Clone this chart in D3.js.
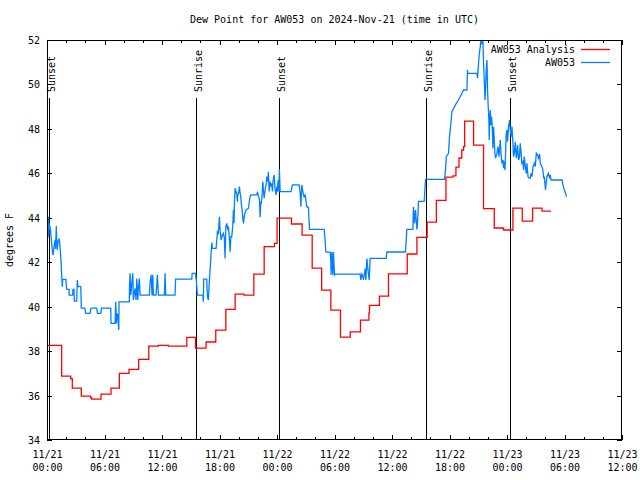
<!DOCTYPE html>
<html>
<head>
<meta charset="utf-8">
<script src="https://cdn.jsdelivr.net/npm/d3@7"></script>
<style>
  html, body { margin: 0; padding: 0; background: #fff; }
  svg { display: block; }
  text { font-family: "DejaVu Sans Mono", monospace; font-size: 10px; fill: #000; }
</style>
</head>
<body>
<svg id="chart" width="640" height="480"></svg>
<script>
// ---------------- DATA ----------------
const titleText = "Dew Point for AW053 on 2024-Nov-21 (time in UTC)";
const yAxisLabel = "degrees F";
const seriesNames = ["AW053 Analysis", "AW053"];
const seriesColors = ["#ff0000", "#0080ff"];
const startUTC = [2024, 10, 21];          // 2024-Nov-21 00:00 UTC
const xDomainHours = [0, 60];             // through 2024-Nov-23 12:00 UTC
const yDomain = [34, 52];
const yTicks = [34, 36, 38, 40, 42, 44, 46, 48, 50, 52];
const majorTickEveryHours = 6;
const minorTickEveryHours = 2;

// sun events (hours after 11/21 00:00 UTC)
const eventHours  = [0.24, 15.5, 24.25, 39.5, 48.27];
const eventLabels = ["Sunset", "Sunrise", "Sunset", "Sunrise", "Sunset"];

// AW053 Analysis: [hour, degF], value holds until next entry
const analysisObs = [
 [0.00,38.26],[1.53,36.87],[2.47,36.76],[2.64,36.33],[3.58,35.97],[4.56,35.90],[4.67,35.84],
 [5.64,36.06],[6.68,36.33],[7.55,37.00],[8.56,37.18],[9.57,37.63],[10.62,38.22],[11.62,38.26],
 [12.66,38.22],[14.59,38.62],[15.50,38.13],[16.60,38.41],[17.61,38.94],[18.66,39.88],[19.63,40.56],
 [20.57,40.52],[21.58,41.46],[22.66,42.70],[23.73,42.85],[24.01,43.98],[25.51,43.72],[26.62,43.22],
 [27.67,41.73],[28.66,40.74],[29.62,39.84],[30.62,38.63],[31.64,38.87],[32.71,39.39],[33.59,39.71],
 [33.65,40.06],[34.69,40.47],[35.63,41.48],[37.59,42.37],[38.60,43.12],[39.67,43.80],[40.63,44.78],
 [41.63,45.83],[42.36,45.89],[42.67,46.28],[42.99,46.69],[43.28,47.05],[43.47,47.20],[43.58,48.35],
 [44.51,47.27],[45.55,44.41],[46.67,43.54],[47.64,43.45],[48.62,44.43],[49.59,43.85],[50.67,44.43],
 [51.65,44.30],[52.59,44.30]
];

// AW053 observations: [hour, degF]
const stationObs = [
 [0.00,44.02],[0.03,43.0],[0.07,44.0],[0.10,43.1],[0.15,44.05],[0.19,43.2],[0.21,43.75],[0.31,43.6],
 [0.37,43.45],[0.49,42.85],[0.55,42.55],[0.63,42.32],[0.73,42.7],[0.84,43.0],[0.90,42.6],[0.97,43.63],
 [1.01,43.0],[1.08,42.55],[1.15,42.92],[1.28,43.07],[1.36,42.7],[1.46,42.1],[1.53,41.43],[1.60,40.9],
 [1.64,41.23],[1.98,41.23],[2.02,40.93],[2.06,40.78],[2.30,40.78],[2.31,40.52],[2.68,40.52],[2.71,40.78],
 [2.82,40.78],[2.85,40.25],[3.10,40.25],[3.16,41.2],[3.24,40.9],[3.52,40.9],[3.55,40.52],[3.58,39.93],
 [3.94,39.93],[4.04,39.7],[4.49,39.7],[4.59,39.93],[5.19,39.93],[5.27,39.7],[5.61,39.7],[5.69,39.93],
 [6.65,39.93],[6.68,39.25],[7.10,39.25],[7.17,40.22],[7.24,39.25],[7.34,39.7],[7.41,39.48],[7.49,38.95],
 [7.52,40.22],[8.59,40.22],[8.61,40.97],[8.67,41.5],[8.74,40.52],[8.84,40.97],[8.95,41.5],[9.01,40.3],
 [9.19,40.82],[9.29,40.3],[9.37,41.27],[9.47,40.3],[9.53,40.82],[9.64,41.27],[9.71,40.52],[10.68,40.52],
 [10.75,41.05],[10.86,41.43],[10.96,40.52],[11.04,41.43],[11.10,40.52],[11.38,40.52],[11.45,40.97],
 [11.52,41.43],[11.62,40.52],[12.25,40.52],[12.32,41.5],[12.39,40.52],[13.36,40.52],[13.42,41.24],
 [15.11,41.24],[15.14,41.5],[15.50,41.5],[15.61,41.05],[15.69,40.52],[16.26,40.52],[16.32,40.22],
 [16.35,41.24],[16.67,41.24],[16.74,40.45],[16.84,40.3],[16.91,40.9],[17.02,41.65],[17.12,42.4],
 [17.20,42.88],[17.26,42.62],[17.64,42.62],[17.72,43.0],[17.78,43.37],[17.88,43.3],[17.99,44.05],
 [18.06,43.45],[18.17,43.0],[18.30,43.22],[18.41,43.3],[18.51,43.07],[18.58,42.17],[18.66,43.6],
 [18.76,43.75],[18.87,43.45],[18.93,43.6],[19.03,43.07],[19.11,42.47],[19.18,43.15],[19.28,43.15],
 [19.39,43.67],[19.45,44.35],[19.52,43.75],[19.56,44.72],[19.63,45.33],[19.73,45.18],[19.81,45.03],
 [19.87,44.72],[19.91,45.03],[20.01,45.18],[20.08,45.4],[20.15,45.1],[20.22,44.95],[20.29,44.57],
 [20.36,44.35],[20.43,43.98],[20.50,43.75],[20.60,44.12],[20.70,44.27],[20.78,44.35],[21.02,44.43],
 [21.19,44.95],[21.27,45.03],[21.89,45.03],[21.96,45.18],[22.03,45.03],[22.17,44.8],[22.24,44.02],
 [22.31,44.72],[22.37,44.65],[22.45,45.03],[22.52,45.63],[22.58,45.25],[22.66,44.88],[22.76,45.25],
 [22.86,45.48],[22.94,45.85],[23.04,45.63],[23.10,46.07],[23.18,45.18],[23.28,45.63],[23.36,45.4],
 [23.46,45.55],[23.52,45.18],[23.60,45.7],[23.70,45.93],[23.80,45.25],[23.91,45.03],[23.98,45.4],
 [24.04,45.18],[24.12,45.7],[24.19,45.18],[24.25,46.18],[24.33,45.18],[25.47,45.18],[25.61,45.48],
 [26.31,45.48],[26.41,45.18],[26.49,44.5],[26.59,45.48],[26.70,45.18],[26.76,45.03],[26.83,44.95],
 [26.94,45.03],[27.11,44.5],[27.28,44.47],[27.39,43.48],[28.92,43.48],[29.02,43.0],[29.10,42.45],
 [29.55,42.45],[29.62,42.03],[29.65,41.43],[29.72,42.46],[29.83,41.43],[29.89,42.46],[30.00,41.43],
 [30.07,41.46],[32.68,41.46],[32.75,41.2],[32.86,41.46],[32.96,41.35],[33.02,41.2],[33.20,41.71],
 [33.27,41.2],[33.38,42.17],[33.48,41.7],[33.62,41.2],[33.72,42.17],[35.39,42.17],[35.47,42.46],
 [37.41,42.46],[37.48,43.0],[37.55,43.48],[38.18,43.48],[38.24,44.5],[38.35,43.75],[38.45,44.35],
 [38.60,43.48],[38.66,43.78],[38.77,44.74],[39.36,44.74],[39.43,45.25],[39.50,45.73],[41.48,45.73],
 [41.59,46.18],[41.66,46.75],[41.90,46.9],[42.00,47.65],[42.18,48.4],[42.25,48.77],[42.42,48.92],
 [42.60,49.07],[42.94,49.3],[43.30,49.6],[43.46,49.75],[43.82,49.75],[43.88,50.65],[43.92,50.5],
 [44.86,50.5],[44.93,50.28],[45.03,50.95],[45.10,51.33],[45.21,51.7],[45.28,52.0],[45.38,51.85],
 [45.49,51.93],[45.55,50.95],[45.63,50.2],[45.70,49.3],[45.76,49.75],[45.83,50.65],[45.91,51.1],
 [45.97,49.75],[46.04,49.0],[46.11,48.4],[46.15,47.5],[46.18,48.4],[46.25,48.85],[46.32,48.17],
 [46.39,48.55],[46.46,48.1],[46.53,47.12],[46.60,48.1],[46.67,47.5],[46.74,46.9],[46.80,46.68],
 [46.95,46.9],[47.05,47.2],[47.16,46.75],[47.30,47.5],[47.37,46.9],[47.47,46.45],[47.58,46.6],
 [47.64,46.23],[47.71,46.53],[47.79,46.15],[47.85,46.9],[47.92,47.8],[48.00,47.95],[48.06,47.42],
 [48.16,48.1],[48.27,48.4],[48.34,47.95],[48.44,47.65],[48.52,48.1],[48.62,47.35],[48.68,46.75],
 [48.76,46.9],[48.86,47.42],[48.97,46.68],[49.04,46.9],[49.10,47.27],[49.21,46.6],[49.31,46.75],
 [49.38,47.35],[49.56,46.45],[49.67,46.53],[49.73,46.15],[49.80,46.75],[49.91,46.3],[50.01,46.0],
 [50.08,46.45],[50.19,45.85],[50.29,45.78],[50.43,45.78],[50.50,46.0],[50.61,45.85],[50.71,46.3],
 [50.85,46.45],[50.95,46.3],[51.06,46.9],[51.19,46.82],[51.30,46.68],[51.40,46.87],[51.47,46.45],
 [51.65,46.3],[51.75,46.15],[51.82,45.78],[51.89,45.85],[52.02,45.25],[52.10,45.63],[52.17,45.85],
 [52.31,46.0],[52.44,45.78],[52.52,45.93],[52.59,45.7],[53.74,45.7],[53.84,45.48],[53.98,45.25],
 [54.11,45.1],[54.22,44.95]
];

// ---------------- CHART ----------------
const W = 640, H = 480;
const M = { left: 47, right: 18, top: 40, bottom: 40 };
const x0 = M.left, x1 = W - M.right, yTop = M.top, yBot = H - M.bottom;

const t0 = Date.UTC(startUTC[0], startUTC[1], startUTC[2]);
const toDate = h => new Date(t0 + h * 3600000);

const x = d3.scaleUtc().domain(xDomainHours.map(toDate)).range([x0, x1]);
const y = d3.scaleLinear().domain(yDomain).range([yBot, yTop]);

const svg = d3.select("#chart");

// title
svg.append("text").attr("x", (x0 + x1) / 2).attr("y", 23)
  .attr("text-anchor", "middle").text(titleText);

// y label
svg.append("text").attr("transform", `translate(13,${(yTop + yBot) / 2}) rotate(-90)`)
  .attr("text-anchor", "middle").text(yAxisLabel);

// clip
svg.append("defs").append("clipPath").attr("id", "plotclip")
  .append("rect").attr("x", x0).attr("y", yTop).attr("width", x1 - x0).attr("height", yBot - yTop);

const majorTicks = d3.utcHour.every(majorTickEveryHours);
const minorTicks = d3.utcHour.every(minorTickEveryHours);

function styleAxis(g) {
  g.select(".domain").remove();
  g.selectAll(".tick line").attr("stroke", "#000").attr("shape-rendering", "crispEdges");
  g.selectAll("text").attr("font-family", "DejaVu Sans Mono").attr("font-size", 10).attr("fill", "#000");
}

// minor x ticks (bottom & top)
svg.append("g").attr("transform", `translate(0,${yBot})`)
  .call(d3.axisBottom(x).ticks(minorTicks).tickSize(-3).tickSizeOuter(0).tickFormat(""))
  .call(styleAxis);
svg.append("g").attr("transform", `translate(0,${yTop})`)
  .call(d3.axisTop(x).ticks(minorTicks).tickSize(-3).tickSizeOuter(0).tickFormat(""))
  .call(styleAxis);

// major x ticks
const fmtDay = d3.utcFormat("%m/%d"), fmtTime = d3.utcFormat("%H:%M");
const xAxisG = svg.append("g").attr("transform", `translate(0,${yBot})`)
  .call(d3.axisBottom(x).ticks(majorTicks).tickSize(-5).tickSizeOuter(0).tickFormat(""))
  .call(styleAxis);
xAxisG.selectAll(".tick").each(function(d) {
  const g = d3.select(this);
  g.select("text").remove();
  const t = g.append("text").attr("text-anchor", "middle");
  t.append("tspan").attr("x", 0).attr("y", 17.5).text(fmtDay(d));
  t.append("tspan").attr("x", 0).attr("y", 30.5).text(fmtTime(d));
});
svg.append("g").attr("transform", `translate(0,${yTop})`)
  .call(d3.axisTop(x).ticks(majorTicks).tickSize(-5).tickSizeOuter(0).tickFormat(""))
  .call(styleAxis);

// y ticks
svg.append("g").attr("transform", `translate(${x0},0)`)
  .call(d3.axisLeft(y).tickValues(yTicks).tickSize(-5).tickSizeOuter(0).tickPadding(7).tickFormat(d3.format("d")))
  .call(styleAxis)
  .selectAll("text").attr("dy", "0.35em");
svg.append("g").attr("transform", `translate(${x1},0)`)
  .call(d3.axisRight(y).tickValues(yTicks).tickSize(-5).tickSizeOuter(0).tickFormat(""))
  .call(styleAxis);

// sun event lines and labels
eventHours.forEach((h, i) => {
  const ex = Math.round(x(toDate(h))) + 0.5;
  svg.append("line").attr("x1", ex).attr("x2", ex).attr("y1", yTop + 58).attr("y2", yBot)
    .attr("stroke", "#000").attr("stroke-width", 1).attr("shape-rendering", "crispEdges");
  svg.append("text").attr("transform", `translate(${ex + 5},${yTop + 52}) rotate(-90)`)
    .attr("text-anchor", "start").text(eventLabels[i]);
});

// series
const plot = svg.append("g").attr("clip-path", "url(#plotclip)");
const redLine = d3.line().curve(d3.curveStepAfter).x(d => x(toDate(d[0]))).y(d => y(d[1]));
const blueLine = d3.line().x(d => x(toDate(d[0]))).y(d => y(d[1]));

plot.append("path").datum(stationObs).attr("d", blueLine)
  .attr("fill", "none").attr("stroke", seriesColors[1]).attr("stroke-width", 1.3)
  .attr("stroke-linejoin", "miter");
plot.append("path").datum(analysisObs).attr("d", redLine)
  .attr("fill", "none").attr("stroke", seriesColors[0]).attr("stroke-width", 1.3);

// frame
svg.append("rect").attr("x", x0 + 0.5).attr("y", yTop + 0.5)
  .attr("width", x1 - x0 - 1).attr("height", yBot - yTop - 1)
  .attr("fill", "none").attr("stroke", "#000").attr("shape-rendering", "crispEdges");

// legend
seriesNames.forEach((name, i) => {
  const ly = 49 + i * 13;
  svg.append("text").attr("x", 575).attr("y", ly + 4).attr("text-anchor", "end").text(name);
  svg.append("line").attr("x1", 581).attr("x2", 610).attr("y1", ly + 0.5).attr("y2", ly + 0.5)
    .attr("stroke", seriesColors[i]).attr("stroke-width", 1.3);
});
</script>
</body>
</html>
